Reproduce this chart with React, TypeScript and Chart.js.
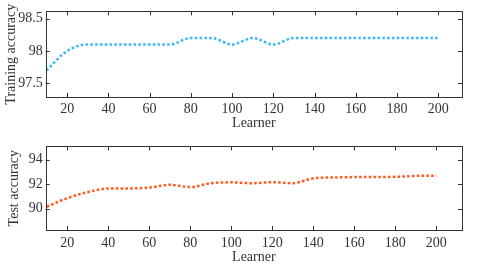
import React, { useEffect, useRef } from "react";
import { Chart, registerables } from "chart.js";

Chart.register(...registerables);

const learners = [10, 20, 30, 40, 50, 60, 70, 80, 90, 100, 110, 120, 130, 140, 150, 160, 170, 180, 190, 200];
const trainAcc = [97.7, 98.0, 98.1, 98.1, 98.1, 98.1, 98.1, 98.2, 98.2, 98.1, 98.2, 98.1, 98.2, 98.2, 98.2, 98.2, 98.2, 98.2, 98.2, 98.2];
const testAcc = [90.15, 90.85, 91.35, 91.65, 91.65, 91.72, 91.95, 91.76, 92.08, 92.15, 92.08, 92.16, 92.08, 92.48, 92.55, 92.58, 92.58, 92.6, 92.68, 92.7];
const xTicks = [20, 40, 60, 80, 100, 120, 140, 160, 180, 200];
const trainTicks = [97.5, 98, 98.5];
const testTicks = [90, 92, 94];

const FONT = "'Liberation Serif', 'Times New Roman', serif";
const AXIS_COLOR = "#333333";
const FS = 14;

const boxPlugin = {
  id: "boxTicks",
  afterDraw(chart: any) {
    const { ctx, chartArea: a, scales } = chart;
    const len = 4;
    ctx.save();
    ctx.strokeStyle = AXIS_COLOR;
    ctx.lineWidth = 1;
    ctx.beginPath();
    for (const t of scales.x.ticks) {
      const px = Math.round(scales.x.getPixelForValue(t.value)) + 0.5;
      ctx.moveTo(px, a.bottom);
      ctx.lineTo(px, a.bottom - len);
      ctx.moveTo(px, a.top);
      ctx.lineTo(px, a.top + len);
    }
    for (const t of scales.y.ticks) {
      const py = Math.round(scales.y.getPixelForValue(t.value)) + 0.5;
      ctx.moveTo(a.left, py);
      ctx.lineTo(a.left + len, py);
      ctx.moveTo(a.right, py);
      ctx.lineTo(a.right - len, py);
    }
    ctx.stroke();
    ctx.strokeRect(Math.round(a.left) + 0.5, Math.round(a.top) + 0.5, Math.round(a.right - a.left), Math.round(a.bottom - a.top));
    ctx.restore();
  },
};

function makeConfig(o: any) {
  return {
    type: "line",
    data: {
      labels: learners,
      datasets: [
        {
          data: learners.map((x, i) => ({ x, y: o.values[i] })),
          borderColor: o.color,
          borderWidth: 2.5,
          borderDash: [2.6, 2.2],
          pointRadius: 0,
          cubicInterpolationMode: "monotone",
          fill: false,
        },
      ],
    },
    options: {
      animation: false,
      responsive: false,
      maintainAspectRatio: false,
      events: [],
      layout: { padding: { left: 0, top: o.padTop, right: 18, bottom: 0 } },
      plugins: { legend: { display: false }, tooltip: { enabled: false } },
      scales: {
        x: {
          type: "linear",
          min: o.xMin,
          max: o.xMax,
          grid: { display: false, drawTicks: false },
          border: { display: false },
          afterBuildTicks: (s: any) => {
            s.ticks = xTicks.map((v) => ({ value: v }));
          },
          afterFit: (s: any) => {
            s.height = o.xHeight;
          },
          ticks: { color: AXIS_COLOR, font: { family: FONT, size: FS }, padding: o.xTickPad, maxRotation: 0, autoSkip: false },
          title: {
            display: true,
            text: "Learner",
            color: AXIS_COLOR,
            font: { family: FONT, size: FS },
            padding: { top: 0, bottom: o.xTitlePad },
          },
        },
        y: {
          type: "linear",
          min: o.yMin,
          max: o.yMax,
          grid: { display: false, drawTicks: false },
          border: { display: false },
          afterBuildTicks: (s: any) => {
            s.ticks = o.yTicks.map((v: number) => ({ value: v }));
          },
          afterFit: (s: any) => {
            s.width = 45.7;
          },
          ticks: { color: AXIS_COLOR, font: { family: FONT, size: FS }, padding: 3, callback: (v: any) => String(v) },
          title: {
            display: true,
            text: o.yTitle,
            color: AXIS_COLOR,
            font: { family: FONT, size: FS },
            padding: { top: o.yTitlePad, bottom: 0 },
          },
        },
      },
    },
    plugins: [boxPlugin],
  };
}

function LineChart(props: any) {
  const ref = useRef<HTMLCanvasElement>(null);
  useEffect(() => {
    const chart = new Chart(ref.current as any, makeConfig(props.cfg) as any);
    return () => chart.destroy();
  }, []);
  return (
    <canvas
      ref={ref}
      width={480}
      height={props.height}
      style={{ position: "absolute", left: 0, top: props.top, width: 480, height: props.height }}
    />
  );
}

export default function App() {
  return (
    <div style={{ position: "fixed", left: 0, top: 0, width: 480, height: 277, background: "#fff" }}>
      <LineChart
        top={0}
        height={135}
        cfg={{
          values: trainAcc,
          color: "#3cb9f2",
          padTop: 4,
          xMin: 9.6,
          xMax: 211.5,
          xHeight: 38,
          xTickPad: 4,
          xTitlePad: 3.4,
          yMin: 97.29,
          yMax: 98.61,
          yTicks: trainTicks,
          yTitle: "Training accuracy",
          yTitlePad: 3.4,
        }}
      />
      <LineChart
        top={135}
        height={142}
        cfg={{
          values: testAcc,
          color: "#ff5b1e",
          padTop: 2.3,
          xMin: 9.5,
          xMax: 212.5,
          xHeight: 47,
          xTickPad: 5,
          xTitlePad: 11.4,
          yMin: 88.24,
          yMax: 95.1,
          yTicks: testTicks,
          yTitle: "Test accuracy",
          yTitlePad: 6.4,
        }}
      />
    </div>
  );
}
